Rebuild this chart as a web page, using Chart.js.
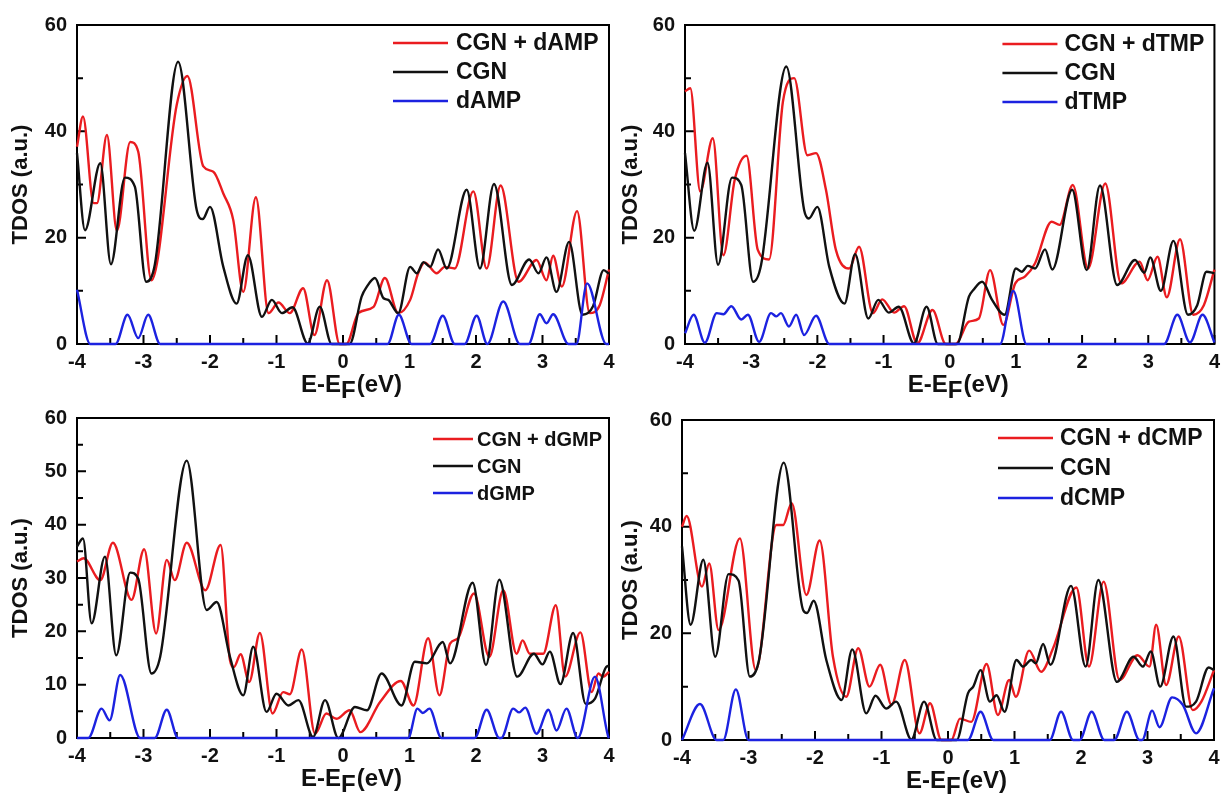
<!DOCTYPE html>
<html>
<head>
<meta charset="utf-8">
<script src="https://cdn.jsdelivr.net/npm/chart.js@4.4.1/dist/chart.umd.min.js"></script>
<style>
  body { margin: 0; background: #fff; width: 1226px; height: 802px; position: relative; overflow: hidden; }
  canvas { position: absolute; }
</style>
</head>
<body>
<canvas id="pA" width="625" height="400" style="left:0;top:0"></canvas>
<canvas id="pB" width="616" height="400" style="left:610px;top:0"></canvas>
<canvas id="pC" width="625" height="399" style="left:0;top:395px"></canvas>
<canvas id="pD" width="616" height="401" style="left:610px;top:395px"></canvas>
<script>
// TDOS curves, [E - EF (eV), TDOS (a.u.)] at peaks and valleys

// dAMP panel
var aMix = [[-4,37.1],[-3.91,42.8],[-3.75,26.5],[-3.7,26.5],[-3.55,39.3],[-3.4,21.3],[-3.2,38],[-3.08,36.2],[-2.88,12],[-2.5,45],[-2.34,50.4],[-2.1,33.4],[-1.95,32.4],[-1.8,28.3],[-1.65,23.3],[-1.5,9.8],[-1.31,27.6],[-1.12,5.8],[-0.97,7.8],[-0.8,5.8],[-0.6,10.5],[-0.43,1.7],[-0.24,12],[-0.05,0],[0.05,0],[0.23,5.8],[0.46,7],[0.63,12.4],[0.83,5.8],[1.01,8.3],[1.13,13.3],[1.23,15.3],[1.41,13.3],[1.53,14.5],[1.68,14.2],[1.96,28.7],[2.16,14.2],[2.37,29.8],[2.64,11.7],[2.91,15.8],[3.06,12],[3.16,16.6],[3.29,10.8],[3.52,25],[3.71,5.8],[3.86,7.3],[4,14]];
var aCgn = [[-4,35.9],[-3.88,21.4],[-3.65,34],[-3.49,15],[-3.28,31.3],[-3.13,29.6],[-2.96,11.7],[-2.83,14.9],[-2.48,53.1],[-2.2,25.2],[-2.11,23.5],[-2,25.8],[-1.8,14.5],[-1.6,7.6],[-1.43,16.7],[-1.22,5.1],[-1.07,8.3],[-0.92,5.8],[-0.76,6.9],[-0.53,0.1],[-0.35,7],[-0.17,0],[0.1,0],[0.28,8.9],[0.36,10.8],[0.48,12.4],[0.61,8.6],[0.68,8.3],[0.83,5.8],[1.01,14.5],[1.11,13.3],[1.21,15.4],[1.31,14.5],[1.43,17.8],[1.56,14.2],[1.86,29],[2.06,14.2],[2.27,30.1],[2.54,11.1],[2.8,15.9],[2.94,13.3],[3.06,16.3],[3.21,9.8],[3.4,19.2],[3.6,5.5],[3.76,7.1],[3.92,13.9],[4,13.2]];
var aNuc = [[-4,10.2],[-3.8,0],[-3.42,0],[-3.24,5.5],[-3.08,1.1],[-2.93,5.5],[-2.75,0],[0.67,0],[0.84,5.5],[1.03,0],[1.31,0],[1.5,5.3],[1.68,0],[1.83,0],[2.01,5.3],[2.17,0],[2.41,8],[2.66,0],[2.79,0],[2.96,5.6],[3.06,3.9],[3.16,5.6],[3.39,0],[3.51,0],[3.67,11.4],[3.96,0],[4,0]];

// dTMP panel
var bMix = [[-4,47.5],[-3.92,48.1],[-3.77,28.7],[-3.58,38.7],[-3.42,16.7],[-3.25,30.8],[-3.07,35.4],[-2.9,17.7],[-2.73,15.9],[-2.52,45.6],[-2.35,50],[-2.15,35.5],[-2.02,35.9],[-1.87,29],[-1.72,17.7],[-1.52,14.2],[-1.37,18.3],[-1.16,5.8],[-1.02,8.4],[-0.84,5.9],[-0.69,7.1],[-0.49,0.1],[-0.26,6.4],[-0.06,0],[0.09,0],[0.29,4.2],[0.44,4.8],[0.61,13.9],[0.81,3.6],[0.99,11.4],[1.14,12.7],[1.29,15.2],[1.54,23],[1.66,22.4],[1.86,29.9],[2.09,14.2],[2.35,30.2],[2.59,11.4],[2.87,15.5],[2.99,12],[3.14,16.4],[3.28,8.8],[3.48,19.7],[3.68,5.5],[3.84,7.3],[4,14]];
var bCgn = [[-4,35.9],[-3.86,21.3],[-3.66,34.1],[-3.5,14.9],[-3.29,31.3],[-3.15,29.9],[-2.97,11.7],[-2.85,14.9],[-2.47,52.2],[-2.2,25.2],[-2.13,23.6],[-2,25.8],[-1.82,14.5],[-1.59,7.6],[-1.43,16.9],[-1.23,4.8],[-1.08,8.3],[-0.92,5.9],[-0.77,7],[-0.54,0.1],[-0.35,7],[-0.18,0],[0.11,0],[0.29,8.9],[0.36,10.2],[0.49,11.7],[0.64,8.3],[0.83,5.5],[1,14.2],[1.09,13.6],[1.18,14.7],[1.29,14.2],[1.44,17.8],[1.55,14],[1.85,29],[2.07,13.9],[2.27,29.8],[2.53,11.1],[2.8,15.8],[2.94,13.4],[3.03,16.3],[3.19,10],[3.38,19.4],[3.6,5.5],[3.74,7.3],[3.88,13.6],[4,13.3]];
var bNuc = [[-4,2],[-3.87,5.5],[-3.7,0.25],[-3.52,5.8],[-3.42,5.6],[-3.3,7.1],[-3.15,4.6],[-3.05,5.5],[-2.88,0.4],[-2.7,5.8],[-2.62,5.2],[-2.55,5.8],[-2.43,3.3],[-2.32,5.5],[-2.2,1.7],[-2.02,5.3],[-1.82,0],[0.76,0],[0.96,10],[1.16,0],[3.24,0],[3.44,5.5],[3.63,0.3],[3.82,5.5],[4,0.3]];

// dGMP panel
var cMix = [[-4,33.1],[-3.9,33.7],[-3.65,29.6],[-3.46,36.6],[-3.18,25.9],[-2.99,35.4],[-2.81,19.6],[-2.65,33.4],[-2.53,29.6],[-2.35,36.6],[-2.07,27.7],[-1.84,36.2],[-1.7,14.6],[-1.64,13.3],[-1.54,15.7],[-1.41,10.5],[-1.25,19.7],[-1.06,4.6],[-0.9,8.6],[-0.8,8.2],[-0.62,16.6],[-0.42,0.8],[-0.25,4.6],[-0.1,3.6],[0.1,5.2],[0.26,1.1],[0.56,6.8],[0.87,10.7],[1.06,6.1],[1.28,18.7],[1.45,8],[1.61,17.7],[1.73,18.7],[1.97,27.1],[2.2,15.2],[2.41,27.7],[2.61,15.8],[2.7,18.3],[2.81,15.8],[3.01,15.8],[3.2,24.9],[3.34,11.5],[3.57,19.8],[3.74,8.6],[3.84,12.1],[3.91,11.5],[4,12.4]];
var cCgn = [[-4,35.9],[-3.91,37.4],[-3.78,21.5],[-3.58,34],[-3.41,15.5],[-3.2,31],[-3.08,29.9],[-2.88,12.1],[-2.75,15.2],[-2.35,52],[-2.05,24],[-1.9,25.5],[-1.7,15.2],[-1.5,8],[-1.35,17.1],[-1.15,4.9],[-1,8.3],[-0.82,6.1],[-0.67,7.1],[-0.45,0.2],[-0.27,7.1],[-0.07,0],[0.18,5.8],[0.36,5.2],[0.58,12.1],[0.88,6.1],[1.08,14.3],[1.26,14],[1.5,18],[1.61,14],[1.95,29.1],[2.15,13.7],[2.35,29.7],[2.62,11.5],[2.87,15.8],[3,13.8],[3.11,16.2],[3.27,10.1],[3.46,19.7],[3.65,6.4],[3.79,7.4],[3.98,13.5],[4,13.3]];
var cNuc = [[-4,0],[-3.83,0],[-3.63,5.5],[-3.51,3.3],[-3.35,11.8],[-3.05,0],[-2.83,0],[-2.65,5.3],[-2.48,0],[0.98,0],[1.12,5.5],[1.2,4.7],[1.3,5.5],[1.48,0],[1.98,0],[2.16,5.3],[2.35,0],[2.38,0],[2.56,5.5],[2.65,4.8],[2.74,5.7],[2.91,0.8],[3.09,5.3],[3.21,1.4],[3.36,5.5],[3.53,0],[3.79,11.5],[3.99,0.2],[4,0]];

// dCMP panel
var dMix = [[-4,40],[-3.93,42],[-3.7,28.75],[-3.59,33.1],[-3.45,20.6],[-3.13,37.8],[-2.89,13.1],[-2.58,40.3],[-2.48,40.3],[-2.35,44.4],[-2.13,27.2],[-1.93,37.4],[-1.73,15.6],[-1.53,8.1],[-1.35,17.2],[-1.18,10],[-1.02,14.1],[-0.85,6.6],[-0.65,15],[-0.43,1.25],[-0.27,6.9],[-0.1,0],[0.05,0],[0.18,4],[0.35,3.4],[0.58,14.25],[0.75,4.7],[0.92,11.25],[1.02,8.1],[1.22,16.75],[1.4,12.8],[1.58,17.2],[1.93,28.6],[2.12,13.75],[2.34,29.7],[2.58,11.25],[2.85,15.9],[3.03,13.75],[3.13,21.6],[3.28,10.3],[3.47,19.4],[3.68,5.6],[3.81,7.2],[4,13.1]];
var dCgn = [[-4,36.3],[-3.87,21.6],[-3.68,33.8],[-3.5,15.6],[-3.3,31.1],[-3.15,29.9],[-2.98,11.9],[-2.84,15.1],[-2.47,52],[-2.18,24.4],[-2.12,23.8],[-2.02,26.1],[-1.83,15],[-1.6,7.5],[-1.44,17],[-1.23,5],[-1.09,8.3],[-0.93,5.9],[-0.78,7.2],[-0.55,0.1],[-0.36,7.2],[-0.17,0],[0.13,0],[0.3,8.75],[0.38,10],[0.49,13.1],[0.63,7.2],[0.73,8.4],[0.85,5.3],[1.03,15],[1.13,13.75],[1.25,15],[1.32,14.4],[1.43,18],[1.54,14.1],[1.85,28.9],[2.07,13.75],[2.26,30],[2.54,10.9],[2.79,15.6],[2.93,13.75],[3.05,16.6],[3.19,10],[3.39,19.4],[3.58,6.25],[3.73,7.2],[3.92,13.6],[4,13.1]];
var dNuc = [[-4,0],[-3.73,6.75],[-3.48,0],[-3.38,0],[-3.19,9.5],[-3,0],[0.3,0],[0.49,5.3],[0.68,0],[1.53,0],[1.7,5.3],[1.88,0],[1.98,0],[2.16,5.3],[2.35,0],[2.5,0],[2.69,5.3],[2.88,0],[2.92,0],[3.07,5.5],[3.18,2.4],[3.37,8],[3.53,6.6],[3.73,1.25],[4,9.7]];

var RED = '#ea1c20', BLACK = '#111111', BLUE = '#1c22e0';
var FONT = '"Liberation Sans", Arial, sans-serif';

// frame + inward ticks, drawn under the curves
var frameTicks = {
  id: 'frameTicks',
  beforeDatasetsDraw: function(chart) {
    var c = chart.ctx, a = chart.chartArea, xs = chart.scales.x, ys = chart.scales.y;
    var step = chart.options.scales.y.ticks.stepSize;
    c.save();
    c.strokeStyle = '#000';
    c.lineWidth = 2;
    c.strokeRect(a.left, a.top, a.right - a.left, a.bottom - a.top);
    c.beginPath();
    for (var e = -4; e <= 4.001; e += 0.5) {
      var px = xs.getPixelForValue(e);
      var len = Math.abs(e % 1) < 0.01 ? 9 : 6;
      c.moveTo(px, a.bottom); c.lineTo(px, a.bottom - len);
    }
    for (var v = 0; v <= 60.001; v += step / 2) {
      var py = ys.getPixelForValue(v);
      var l2 = Math.abs(v % step) < 0.01 ? 9 : 6;
      c.moveTo(a.left, py); c.lineTo(a.left + l2, py);
    }
    c.stroke();
    c.restore();
  },
  afterDraw: function(chart) {
    var c = chart.ctx, a = chart.chartArea;
    var lg = chart.options.plugins.frameTicks;
    c.save();
    // legend in the top right corner
    c.font = 'bold ' + lg.size + 'px ' + FONT;
    c.textBaseline = 'middle';
    c.textAlign = 'left';
    chart.data.datasets.forEach(function(ds, i) {
      var y = a.top + lg.y0 + i * lg.step;
      var x0 = a.right - lg.x0;
      c.strokeStyle = ds.borderColor;
      c.lineWidth = 2.4;
      c.beginPath(); c.moveTo(x0, y); c.lineTo(x0 + lg.len, y); c.stroke();
      c.fillStyle = '#111';
      c.fillText(ds.label, x0 + lg.len + lg.gap, y + 1);
    });
    // x axis title with subscript F
    c.font = 'bold 24px ' + FONT;
    c.textBaseline = 'alphabetic';
    var p1 = 'E-E', p2 = 'F', p3 = '(eV)';
    var w1 = c.measureText(p1).width, w2 = c.measureText(p2).width, w3 = c.measureText(p3).width;
    var x = (a.left + a.right) / 2 - (w1 + w2 + w3) / 2 + 8;
    var yb = a.bottom + 48;
    c.fillText(p1, x, yb);
    c.fillText(p2, x + w1, yb + 6);
    c.fillText(p3, x + w1 + w2 + 1, yb);
    c.restore();
  }
};

function makePanel(id, nuc, mix, cgn, dna, cfg) {
  return new Chart(document.getElementById(id), {
    type: 'line',
    data: {
      datasets: [
        { label: 'CGN + ' + dna, data: mix, borderColor: RED, order: 2, clip: 4 },
        { label: 'CGN', data: cgn, borderColor: BLACK, order: 1, clip: 4 },
        { label: dna, data: nuc, borderColor: BLUE, order: 0, clip: 4 }
      ]
    },
    options: {
      responsive: false,
      animation: false,
      layout: { padding: { left: 0, top: cfg.padT, right: cfg.padR, bottom: 0 } },
      elements: {
        line: { borderWidth: 2.4, cubicInterpolationMode: 'monotone', fill: false },
        point: { radius: 0 }
      },
      plugins: {
        legend: { display: false },
        tooltip: { enabled: false },
        frameTicks: cfg.legend
      },
      scales: {
        x: {
          type: 'linear', min: -4, max: 4,
          grid: { display: false, drawTicks: false },
          border: { display: false },
          ticks: { stepSize: 1, padding: 6, color: '#111', font: { family: FONT, size: 20, weight: 'bold' } },
          afterFit: function(s) { s.height = 56; }
        },
        y: {
          min: 0, max: 60,
          grid: { display: false, drawTicks: false },
          border: { display: false },
          ticks: { stepSize: cfg.yStep, padding: 10, color: '#111', font: { family: FONT, size: 20, weight: 'bold' } },
          title: { display: true, text: 'TDOS (a.u.)', color: '#111', padding: { top: 8, bottom: 0 }, font: { family: FONT, size: 22, weight: 'bold' } },
          afterFit: function(s) { s.width = cfg.yW; }
        }
      }
    },
    plugins: [frameTicks]
  });
}

makePanel('pA', aNuc, aMix, aCgn, 'dAMP', { padT: 25, padR: 16, yW: 77, yStep: 20,
  legend: { x0: 216, len: 55, gap: 8, y0: 18, step: 29, size: 23 } });
makePanel('pB', bNuc, bMix, bCgn, 'dTMP', { padT: 25, padR: 9, yW: 75, yStep: 20,
  legend: { x0: 212, len: 55, gap: 7, y0: 19, step: 29, size: 23 } });
makePanel('pC', cNuc, cMix, cCgn, 'dGMP', { padT: 23, padR: 16, yW: 77, yStep: 10,
  legend: { x0: 176, len: 40, gap: 4, y0: 21, step: 27, size: 20 } });
makePanel('pD', dNuc, dMix, dCgn, 'dCMP', { padT: 25, padR: 12, yW: 72, yStep: 20,
  legend: { x0: 216, len: 55, gap: 7, y0: 18, step: 30, size: 23 } });
</script>
</body>
</html>
